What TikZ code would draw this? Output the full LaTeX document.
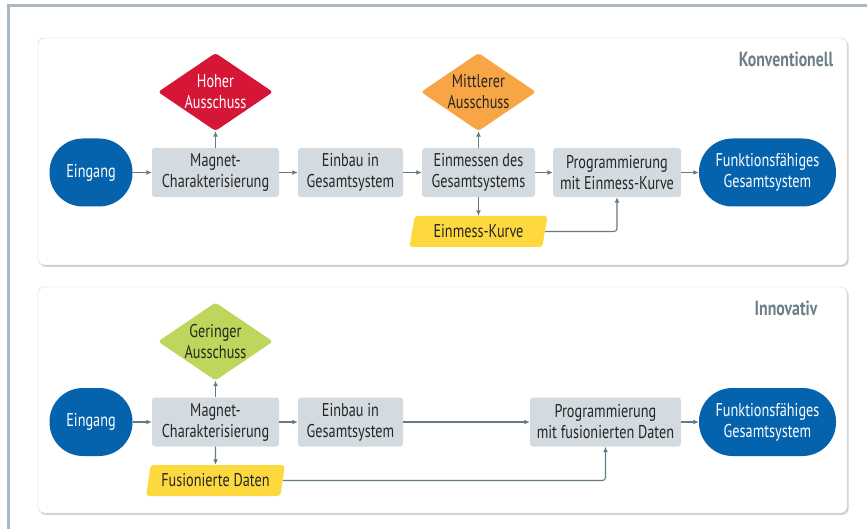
\documentclass[tikz,border=0pt]{standalone}
\usepackage{fontspec}
\setmainfont{PT Sans}[FakeStretch=0.77]
\usetikzlibrary{shapes.geometric,shadows,arrows.meta}
\definecolor{cblue}{HTML}{0563AE}
\definecolor{cred}{HTML}{D61636}
\definecolor{corange}{HTML}{F7A545}
\definecolor{cgreen}{HTML}{BED65B}
\definecolor{cyellow}{HTML}{FDD93F}
\definecolor{cbox}{HTML}{D3DBE0}
\definecolor{carrow}{HTML}{657A85}
\definecolor{cframe}{HTML}{A9B8C1}
\definecolor{ctext}{HTML}{262626}
\definecolor{clabel}{HTML}{6C7E88}
\tikzset{
  txt/.style={font=\fontsize{18.5}{21}\selectfont, align=center, text=ctext},
  panel/.style={draw=black!18, fill=white, rounded corners=6pt,
    drop shadow={opacity=0.35, shadow xshift=1.5pt, shadow yshift=-1.8pt}},
  terminal/.style={txt, fill=cblue, text=white, rounded corners=33.5pt,
    minimum height=68pt, inner sep=0pt},
  proc/.style={txt, fill=cbox, rounded corners=3pt, minimum height=49pt, inner sep=0pt},
  dec/.style={txt, diamond, aspect=1.474, minimum width=115pt, minimum height=78pt,
    inner sep=-8pt, rounded corners=3pt},
  data/.style={txt, trapezium, trapezium left angle=74, trapezium right angle=106,
    trapezium stretches=true, minimum width=139pt, minimum height=31pt,
    inner sep=0pt, fill=cyellow, rounded corners=3pt},
  plabel/.style={font=\fontsize{20.5}{22}\selectfont\bfseries, text=clabel},
  arr/.style={draw=carrow, line width=1.1pt, -{Latex[length=5.5pt,width=5pt]}},
}
\begin{document}
\begin{tikzpicture}[x=1pt,y=-1pt]
\useasboundingbox (0,0) rectangle (867,529);
\clip (0,0) rectangle (867,529);
\fill[white] (0,0) rectangle (867,529);
\draw[cframe, line width=3.2pt] (8.4,540) -- (8.4,5.7) -- (880,5.7);

% panels
\node[panel, minimum width=809pt, minimum height=227pt] (p1) at (442.5,151.5) {};
\node[panel, minimum width=809pt, minimum height=226pt] (p2) at (442.5,400) {};

% panel 1
\node[plabel] (konv) at (786,59) {Konventionell};
\node[terminal, minimum width=83pt] (in1) at (91,172.5) {Eingang};
\node[proc, minimum width=127pt] (mag1) at (215.5,172.5) {Magnet-\\Charakterisierung};
\node[dec, fill=cred, text=white] (hoch) at (215.5,92) {Hoher\\Ausschuss};
\node[proc, minimum width=105pt] (ein1) at (350.5,172.5) {Einbau in\\Gesamtsystem};
\node[proc, minimum width=113pt] (mess) at (478.5,172.5) {Einmessen des\\Gesamtsystems};
\node[dec, fill=corange] (mitt) at (478.5,92) {Mittlerer\\Ausschuss};
\node[data] (kurve) at (478.5,231.5) {Einmess-Kurve};
\node[proc, minimum width=128pt] (prog1) at (617,172.5) {Programmierung\\mit Einmess-Kurve};
\node[terminal, minimum width=137pt] (out1) at (767.5,172.5) {Funktionsfähiges\\Gesamtsystem};

\draw[arr] (in1) -- (mag1);
\draw[arr] (mag1) -- (ein1);
\draw[arr] (ein1) -- (mess);
\draw[arr] (mess) -- (prog1);
\draw[arr] (prog1) -- (out1);
\draw[arr] (mag1) -- (hoch);
\draw[arr] (mess) -- (mitt);
\draw[arr] (mess) -- (kurve);
\draw[arr, rounded corners=3pt] (kurve.east) -| (prog1.south);

% panel 2
\node[plabel] (inno) at (786,308) {Innovativ};
\node[terminal, minimum width=83pt] (in2) at (91,422) {Eingang};
\node[proc, minimum width=127pt] (mag2) at (215.5,422) {Magnet-\\Charakterisierung};
\node[dec, fill=cgreen] (ger) at (215.5,341.5) {Geringer\\Ausschuss};
\node[proc, minimum width=105pt] (ein2) at (350.5,422) {Einbau in\\Gesamtsystem};
\node[proc, minimum width=151pt] (prog2) at (605.5,422) {Programmierung\\mit fusionierten Daten};
\node[terminal, minimum width=137pt] (out2) at (767.5,422) {Funktionsfähiges\\Gesamtsystem};
\node[data] (fus) at (215.5,480.5) {Fusionierte Daten};

\draw[arr] (in2) -- (mag2);
\draw[arr] (mag2) -- (ein2);
\draw[arr] (ein2) -- (prog2);
\draw[arr] (prog2) -- (out2);
\draw[arr] (mag2) -- (ger);
\draw[arr] (mag2) -- (fus);
\draw[arr, rounded corners=3pt] (fus.east) -| (prog2.south);
\end{tikzpicture}
\end{document}
